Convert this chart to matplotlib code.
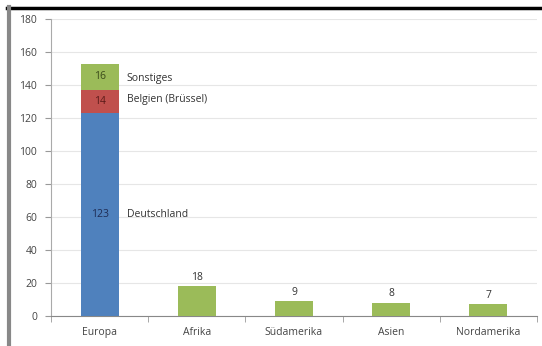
import matplotlib
matplotlib.use("Agg")
import matplotlib.pyplot as plt
from matplotlib.lines import Line2D

categories = ["Europa", "Afrika", "Südamerika", "Asien", "Nordamerika"]
deutschland = [123, 0, 0, 0, 0]
belgien = [14, 0, 0, 0, 0]
sonstiges = [16, 18, 9, 8, 7]
series_names = ["Deutschland", "Belgien (Brüssel)", "Sonstiges"]
yticks = [0, 20, 40, 60, 80, 100, 120, 140, 160, 180]

plt.rcParams['font.family'] = ['Open Sans', 'DejaVu Sans']

fig = plt.figure(figsize=(5.42, 3.46), dpi=100)
ax = fig.add_axes([51/542, 1-316/346, (537-51)/542, (316-19)/346])

blue, red, green = "#4F81BD", "#C0504D", "#9BBB59"
x = list(range(len(categories)))
w = 0.39

ax.bar(x[0], deutschland[0], w, color=blue, zorder=3)
ax.bar(x[0], belgien[0], w, bottom=deutschland[0], color=red, zorder=3)
ax.bar(x[0], sonstiges[0], w, bottom=deutschland[0]+belgien[0], color=green, zorder=3)
ax.bar(x[1:], sonstiges[1:], w, color=green, zorder=3)

tc = "#333333"
fs = 7.5
ax.text(x[0], deutschland[0]/2, str(deutschland[0]), ha="center", va="center", fontsize=fs, color="#1f2d55", zorder=4)
ax.text(x[0], deutschland[0]+belgien[0]/2, str(belgien[0]), ha="center", va="center", fontsize=fs, color="#5a1a18", zorder=4)
ax.text(x[0], deutschland[0]+belgien[0]+sonstiges[0]/2, str(sonstiges[0]), ha="center", va="center", fontsize=fs, color="#3a4a1a", zorder=4)
ax.text(x[0]+0.28, deutschland[0]/2, series_names[0], ha="left", va="center", fontsize=fs, color=tc, zorder=4)
ax.text(x[0]+0.28, deutschland[0]+belgien[0]/2 + 1.0, series_names[1], ha="left", va="center", fontsize=fs, color=tc, zorder=4)
ax.text(x[0]+0.28, deutschland[0]+belgien[0]+sonstiges[0]/2 - 1.0, series_names[2], ha="left", va="center", fontsize=fs, color=tc, zorder=4)
for xi, v in zip(x[1:], sonstiges[1:]):
    ax.text(xi, v + 2, str(v), ha="center", va="bottom", fontsize=fs, color=tc, zorder=4)

ax.set_xlim(-0.5, len(categories) - 0.5)
ax.set_ylim(0, 180)
ax.set_yticks(yticks)
ax.set_yticklabels([str(t) for t in yticks], fontsize=fs, color="#444444")
ax.yaxis.grid(True, color="#e6e6e6", linewidth=0.8, zorder=0)
ax.set_axisbelow(True)

ax.set_xticks(x)
ax.set_xticklabels(categories, fontsize=fs, color="#444444")
ax.tick_params(axis="x", length=0, pad=8)
ax.tick_params(axis="y", length=4, color="#999999", pad=6, direction="out")
ax.set_xticks([i - 0.5 for i in range(len(categories) + 1)], minor=True)
ax.tick_params(axis="x", which="minor", length=4, color="#999999", direction="out")

for s in ["top", "right"]:
    ax.spines[s].set_visible(False)
ax.spines["left"].set_color("#aaaaaa")
ax.spines["bottom"].set_color("#888888")
ax.spines["left"].set_linewidth(0.8)
ax.spines["bottom"].set_linewidth(0.8)

fig.add_artist(Line2D([7/542, 1], [1-7.5/346, 1-7.5/346], color="black", linewidth=2.5, transform=fig.transFigure))
fig.add_artist(Line2D([9/542, 9/542], [0, 1-7/346], color="#888888", linewidth=3, transform=fig.transFigure))

fig.savefig("out.png", dpi=100)
